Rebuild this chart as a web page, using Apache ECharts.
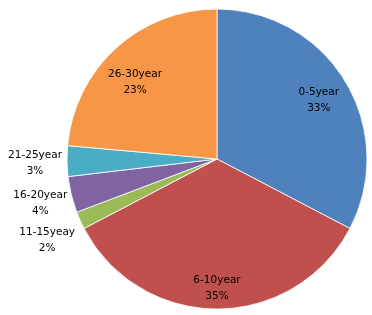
<!DOCTYPE html>
<html><head><meta charset="utf-8">
<script src="https://cdn.jsdelivr.net/npm/echarts@6/dist/echarts.min.js"></script>
<style>html,body{margin:0;padding:0;background:#fff}#c{width:372px;height:315px}</style>
</head><body><div id="c"></div>
<script>
const categories = ['0-5year', '6-10year', '11-15yeay', '16-20year', '21-25year', '26-30year'];
const values = [32.7, 34.7, 1.9, 3.9, 3.3, 23.6];
const colors = ['#4F81BD', '#C0504D', '#9BBB59', '#8064A2', '#4BACC6', '#F79646'];
const insideLabel = [true, true, false, false, false, true];
const labelOffsets = [[3, 1], [0, 14], [1, 20], [3, 9], [2, 2], [-4, 9]];

const font = { fontFamily: 'DejaVu Sans', fontSize: 10.5, color: '#000', lineHeight: 16 };
const chart = echarts.init(document.getElementById('c'), null, { renderer: 'canvas' });
chart.setOption({
  animation: false,
  series: [
    {
      type: 'pie', center: [217, 159], radius: [0, 150], startAngle: 90, clockwise: true,
      percentPrecision: 0, avoidLabelOverlap: false,
      itemStyle: { borderColor: 'rgba(255,255,255,0.8)', borderWidth: 1 },
      labelLine: { show: false, length: 0, length2: 0 },
      data: categories.map((c, i) => ({
        name: c, value: values[i], itemStyle: { color: colors[i] },
        label: insideLabel[i] ? { show: false } : {
          show: true, position: 'outside', distanceToLabelLine: 5, offset: labelOffsets[i],
          formatter: '{t|{b}}\n{t|{d}%}',
          rich: { t: Object.assign({ width: 58, align: 'center' }, font) }
        }
      }))
    },
    {
      type: 'pie', center: [217, 159], radius: [75, 150], startAngle: 90, clockwise: true,
      silent: true, percentPrecision: 0,
      itemStyle: { color: 'transparent' },
      labelLine: { show: false },
      data: categories.map((c, i) => ({
        name: c, value: values[i],
        label: insideLabel[i] ? Object.assign({ show: true, position: 'inside', formatter: '{b}\n{d}%', offset: labelOffsets[i] }, font) : { show: false }
      }))
    }
  ]
});
</script></body></html>
